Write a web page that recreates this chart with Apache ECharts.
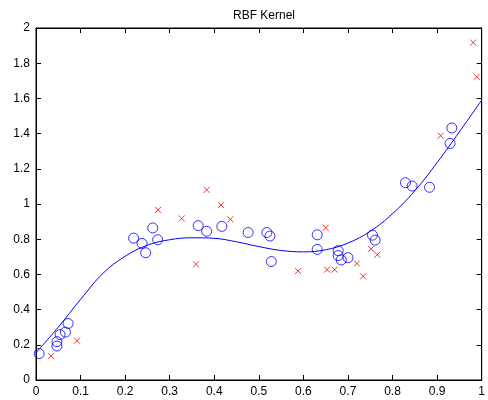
<!DOCTYPE html>
<html><head><meta charset="utf-8">
<script src="https://cdn.jsdelivr.net/npm/echarts@6/dist/echarts.min.js"></script>
<style>html,body{margin:0;padding:0;background:#fff}#c{width:488px;height:400px}</style>
</head><body><div id="c"></div>
<script>
const circleX = [0.007,0.047,0.047,0.054,0.066,0.072,0.219,0.238,0.246,0.262,0.273,0.364,0.383,0.417,0.476,0.518,0.525,0.528,0.631,0.631,0.678,0.678,0.685,0.700,0.755,0.761,0.829,0.844,0.883,0.929,0.933];
const circleY = [0.150,0.218,0.193,0.258,0.272,0.321,0.806,0.776,0.723,0.864,0.797,0.877,0.845,0.873,0.838,0.838,0.818,0.673,0.825,0.742,0.735,0.707,0.682,0.695,0.823,0.795,1.121,1.102,1.095,1.344,1.432];
const crossX = [0.034,0.092,0.274,0.327,0.359,0.383,0.415,0.436,0.588,0.650,0.653,0.670,0.720,0.734,0.752,0.766,0.908,0.981,0.989];
const crossY = [0.136,0.223,0.966,0.918,0.657,1.080,0.994,0.913,0.619,0.865,0.627,0.627,0.662,0.589,0.745,0.712,1.388,1.917,1.723];
const curveX = [0,0.05,0.1,0.15,0.2,0.25,0.3,0.35,0.4,0.45,0.5,0.55,0.6,0.65,0.7,0.75,0.8,0.85,0.9,0.95,1.0];
const curveY = [0.155,0.30,0.458,0.605,0.703,0.766,0.797,0.808,0.805,0.785,0.758,0.736,0.728,0.740,0.778,0.845,0.945,1.075,1.235,1.41,1.59];
const xTicks = [0,0.1,0.2,0.3,0.4,0.5,0.6,0.7,0.8,0.9,1];
const yTicks = [0,0.2,0.4,0.6,0.8,1,1.2,1.4,1.6,1.8,2];

const zip = (a,b)=>a.map((v,i)=>[v,b[i]]);
const font = 'Liberation Sans, Arial, Helvetica, sans-serif';
const axLine = () => ({show:true, onZero:false, lineStyle:{color:'#000', width:1}});
const tick = () => ({show:true, inside:true, length:5, lineStyle:{color:'#000', width:1}});
const lbl = (show) => show ? {show:true, fontFamily:font, fontSize:12, color:'#000', margin:6} : {show:false};
const mkX = (pos, show) => ({type:'value', min:0, max:1, interval:0.1, position:pos,
  axisLine:axLine(), axisTick:tick(), splitLine:{show:false}, axisLabel:lbl(show)});
const mkY = (pos, show) => ({type:'value', min:0, max:2, interval:0.2, position:pos,
  axisLine:axLine(), axisTick:tick(), splitLine:{show:false}, axisLabel:lbl(show)});
const chart = echarts.init(document.getElementById('c'), null, {renderer:'canvas'});
chart.setOption({
  animation:false,
  backgroundColor:'#fff',
  title:{text:'RBF Kernel', left:259, top:5, textAlign:'center',
    textStyle:{fontFamily:font, fontSize:12, fontWeight:'normal', color:'#000'}},
  grid:{left:36, right:5, top:28, bottom:20, containLabel:false, show:true,
    borderColor:'#000', borderWidth:1, backgroundColor:'rgba(0,0,0,0)'},
  xAxis:[mkX('bottom', true), mkX('top', false)],
  yAxis:[mkY('left', true), mkY('right', false)],
  series:[
    {type:'line', data:zip(curveX,curveY), smooth:0.4, showSymbol:false, symbol:'none',
     lineStyle:{color:'#0000ff', width:1}, z:2},
    {type:'scatter', data:zip(circleX,circleY), symbol:'circle', symbolSize:10,
     itemStyle:{color:'rgba(0,0,0,0)', borderColor:'#0000ff', borderWidth:1}, z:3},
    {type:'scatter', data:zip(crossX,crossY), symbol:'path://M0,0L10,10M10,0L0,10', symbolSize:6,
     itemStyle:{color:'rgba(0,0,0,0)', borderColor:'#ff0000', borderWidth:1}, z:3}
  ]
});
</script></body></html>
